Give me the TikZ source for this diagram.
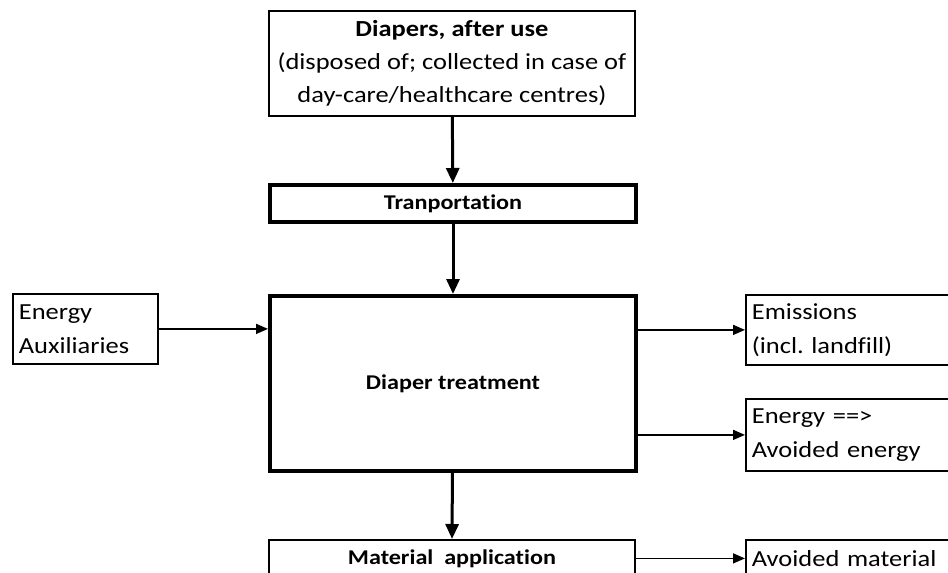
\documentclass[tikz,border=0pt]{standalone}
\usepackage{fontspec}
\setmainfont{Carlito}[FakeStretch=1.15,Ligatures=NoCommon]
\frenchspacing
\usetikzlibrary{arrows.meta,positioning}

\tikzset{
    box/.style={draw,line width=1.8pt,inner sep=0pt,anchor=north west,
        font=\fontsize{21}{33}\selectfont},
    thickbox/.style={box,line width=4pt,font=\fontsize{21}{33}\selectfont\bfseries},
    sidebox/.style={box,align=left,inner xsep=6pt,minimum height=70pt,
        font=\fontsize{23}{34}\selectfont},
    flow/.style={-{Triangle[length=15pt,width=13pt]},line width=3pt},
    sideflow/.style={-{Triangle[length=12pt,width=10pt]},line width=1.5pt}
}

\begin{document}
\begin{tikzpicture}[x=1pt,y=-1pt]

    \def\w{366}	 %width of the middle column
    \def\xl{268} %left edge of the middle column
    \def\xr{745} %left edge of the output boxes

    \useasboundingbox (0,0) rectangle (948,573);

    %MIDDLE COLUMN
    \node[box,align=center,minimum width=\w,minimum height=105,font=\fontsize{23}{33}\selectfont]
        (diapers) at (\xl,10)
        {\textbf{Diapers, after use}\\(disposed of; collected in case of\\day-care/healthcare centres)};
    \node[thickbox,minimum width=\w,minimum height=37] (transport) at (\xl,183) {Tranportation};
    \node[thickbox,minimum width=\w,minimum height=175] (treatment) at (\xl,294) {Diaper treatment};
    \node[box,minimum width=\w,minimum height=37,font=\fontsize{21}{33}\selectfont\bfseries]
        (application) at (\xl,539) {Material\ \ application};

    %INPUTS AND OUTPUTS
    \node[sidebox,text width=133] (inputs) at (12,293) {Energy\\Auxiliaries};
    \node[sidebox,text width=220] (emissions) at (\xr,294) {Emissions\\(incl. landfill)};
    \node[sidebox,text width=220,minimum height=72] (energy) at (\xr,398) {Energy ==>\\Avoided energy};
    \node[sidebox,text width=220,minimum height=37] (material) at (\xr,539) {Avoided material};

    %CONNECTORS
    \draw[flow] (diapers) -- (transport);
    \draw[flow] (transport) -- (treatment);
    \draw[flow] (treatment) -- (application);
    \draw[sideflow] (inputs.east) -- (inputs.east -| treatment.west);
    \draw[sideflow] (emissions.west -| treatment.east) -- (emissions.west);
    \draw[sideflow] (energy.west -| treatment.east) -- (energy.west);
    \draw[sideflow] (material.west -| application.east) -- (material.west);
\end{tikzpicture}
\end{document}
